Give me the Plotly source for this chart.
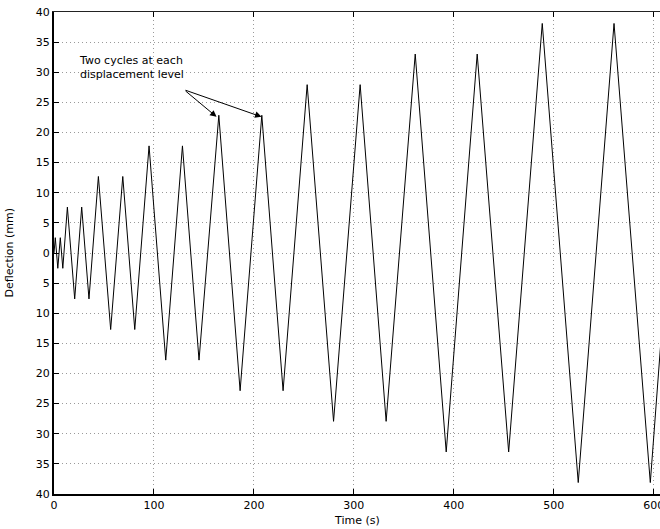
import plotly.graph_objects as go

# Data
time_s = [0, 1.3, 3.8, 6.3, 8.8, 13.4, 20.7, 27.7, 35.0, 44.4, 56.7, 68.8, 80.8,
          95.1, 111.8, 128.5, 145.1, 164.9, 186.2, 207.9, 229.2, 253.3, 279.7,
          306.3, 332.3, 361.4, 392.4, 423.4, 454.9, 488.5, 524.5, 560.3, 596.6, 631.0]
deflection_mm = [0, 2.54, -2.54, 2.54, -2.54, 7.62, -7.62, 7.62, -7.62,
                 12.7, -12.7, 12.7, -12.7, 17.78, -17.78, 17.78, -17.78,
                 22.86, -22.86, 22.86, -22.86, 27.94, -27.94, 27.94, -27.94,
                 33.02, -33.02, 33.02, -33.02, 38.1, -38.1, 38.1, -38.1, 38.1]

y_tickvals = list(range(-40, 41, 5))
y_ticktext = [str(abs(v)) for v in y_tickvals]
x_tickvals = [0, 100, 200, 300, 400, 500, 600]

x_title = "Time (s)"
y_title = "Deflection (mm)"
annot_text = "Two cycles at each<br>displacement level"
arrow_tail = (130.1, 27.1)
arrow_heads = [(162.6, 22.6), (207.6, 22.6)]

FONT = "DejaVu Sans"
GRID = "#9a9a9a"

fig = go.Figure()
fig.add_trace(go.Scatter(x=time_s, y=deflection_mm, mode="lines",
                         line=dict(color="black", width=1), showlegend=False,
                         hoverinfo="skip"))
# invisible trace to host the top (mirror) axis
fig.add_trace(go.Scatter(x=time_s, y=deflection_mm, mode="lines", xaxis="x2",
                         line=dict(color="rgba(0,0,0,0)", width=0), showlegend=False,
                         hoverinfo="skip"))

xr = [0, 606.3]
fig.update_layout(
    width=660, height=529,
    margin=dict(l=54, r=0, t=12, b=35),
    paper_bgcolor="white", plot_bgcolor="white",
    font=dict(family=FONT, size=11, color="black"),
    xaxis=dict(range=xr, tickvals=x_tickvals, ticks="inside", ticklen=5,
               tickcolor="black", showline=True, linewidth=2, linecolor="black",
               showgrid=True, gridcolor=GRID, griddash="1px,3px", gridwidth=1,
               zeroline=False, automargin=False, tickfont=dict(size=11),
               ticklabeloverflow="allow"),
    xaxis2=dict(range=xr, overlaying="x", side="top", anchor="y",
                tickvals=x_tickvals, ticks="inside", ticklen=5, tickcolor="black",
                showticklabels=False, showline=True, linewidth=1,
                linecolor="#222222", showgrid=False, zeroline=False,
                automargin=False),
    yaxis=dict(range=[-40, 40], tickvals=y_tickvals, ticktext=y_ticktext,
               ticks="inside", ticklen=5, tickcolor="black", showline=True,
               linewidth=2, linecolor="black", showgrid=True, gridcolor=GRID,
               griddash="1px,3px", gridwidth=1, zeroline=False, automargin=False,
               tickfont=dict(size=11), ticklabeloverflow="allow"),
)

fig.add_annotation(x=0.5, y=0, xref="paper", yref="paper", yshift=-35,
                   text=x_title, showarrow=False, xanchor="center",
                   yanchor="bottom", font=dict(family=FONT, size=11))
fig.add_annotation(x=0, y=0.5, xref="paper", yref="paper", xshift=-54,
                   text=y_title, showarrow=False, textangle=-90,
                   xanchor="left", yanchor="middle", font=dict(family=FONT, size=11))

fig.add_annotation(x=23, y=33.4, xref="x", yref="y", text=annot_text,
                   showarrow=False, xanchor="left", yanchor="top", align="left",
                   font=dict(family=FONT, size=11, color="black"))
for hx, hy in arrow_heads:
    fig.add_annotation(x=hx, y=hy, xref="x", yref="y", ax=arrow_tail[0],
                       ay=arrow_tail[1], axref="x", ayref="y", text="",
                       showarrow=True, arrowhead=2, arrowsize=1.3, arrowwidth=1,
                       arrowcolor="black")

fig.write_html("out.html", config={"displayModeBar": False},
               post_script="document.body.style.margin='0px';"
                           "document.body.style.overflow='hidden';")
